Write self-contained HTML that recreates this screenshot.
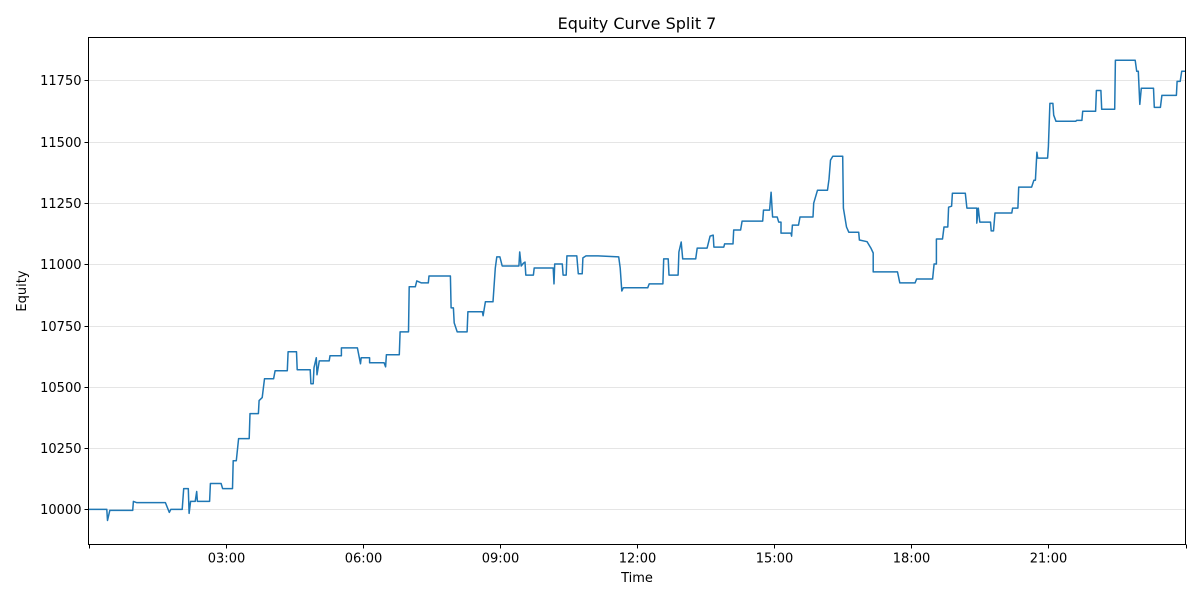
<!DOCTYPE html>
<html><head><meta charset="utf-8"><style>
body{margin:0;background:#fff;font-family:"Liberation Sans","DejaVu Sans",sans-serif}
svg text{font-family:"DejaVu Sans","Liberation Sans",sans-serif;fill:#000}
</style></head><body>
<svg id="chart" width="1200" height="600" xmlns="http://www.w3.org/2000/svg">
<rect width="1200" height="600" fill="#fff"/>
<g id="grid"></g>
<g id="ticks"></g>
<path id="line" fill="none" stroke="#1f77b4" stroke-width="1.5" stroke-linejoin="round"/>
<rect x="88.5" y="37.5" width="1097" height="507" fill="none" stroke="#000" stroke-width="1"/>
<text x="637" y="29" font-size="16" text-anchor="middle">Equity Curve Split 7</text>
<text x="637" y="582" font-size="13" text-anchor="middle">Time</text>
<text x="26" y="291" font-size="13" text-anchor="middle" transform="rotate(-90 26 291)">Equity</text>
</svg>
<script>
const times=[0,24,25,28,58,59,63,101,106,108,123,125,131,132,134,140,142,143,159,160,174,176,189,190,194,197,211,212,223,224,228,231,243,245,261,262,273,274,291,292,295,296,299,300,303,316,317,332,332,353,357,358,369,369,388,390,391,408,409,420,421,429,431,437,446,447,475,476,479,480,484,497,498,517,518,521,531,534,536,540,543,565,566,568,571,573,574,584,585,610,611,612,622,623,627,628,641,643,648,649,653,669,696,698,700,702,734,736,754,755,761,762,774,775,778,780,797,799,812,816,820,821,834,835,846,847,856,858,885,886,894,896,898,904,906,909,909,922,923,924,932,934,951,952,957,970,972,974,977,990,991,995,998,1011,1012,1022,1027,1030,1030,1062,1065,1085,1087,1108,1110,1113,1113,1121,1123,1128,1129,1133,1134,1151,1153,1166,1166,1168,1170,1184,1185,1188,1190,1212,1213,1220,1221,1238,1241,1243,1245,1246,1259,1260,1262,1266,1267,1270,1296,1297,1304,1305,1322,1323,1329,1330,1347,1348,1374,1376,1378,1380,1382,1398,1399,1407,1409,1428,1429,1433,1435,1440];
const equity=[10000,10000,9955,9996,9996,10033,10028,10028,9988,10000,10000,10085,10085,9984,10033,10033,10073,10033,10033,10106,10106,10085,10085,10199,10199,10289,10289,10391,10391,10444,10456,10533,10533,10566,10566,10643,10643,10570,10570,10513,10513,10578,10619,10549,10606,10606,10627,10627,10659,10659,10594,10619,10619,10598,10598,10582,10631,10631,10724,10724,10908,10908,10932,10924,10924,10952,10952,10822,10822,10761,10724,10724,10806,10806,10790,10847,10847,10985,11030,11030,10993,10993,11050,10993,11005,11009,10956,10956,10985,10985,10920,11001,11001,10956,10956,11034,11034,10961,10961,11026,11034,11034,11030,10985,10891,10904,10904,10920,10920,11022,11022,10956,10956,11050,11091,11022,11022,11066,11066,11115,11119,11070,11070,11083,11083,11140,11140,11176,11176,11221,11221,11294,11193,11193,11172,11172,11127,11127,11115,11160,11160,11193,11193,11249,11302,11302,11347,11425,11441,11441,11229,11152,11131,11131,11099,11092,11066,11046,10969,10969,10924,10924,10940,10940,11001,11001,11103,11103,11152,11152,11233,11237,11290,11290,11229,11229,11168,11229,11172,11172,11136,11136,11209,11209,11229,11229,11315,11315,11343,11343,11457,11433,11433,11481,11656,11656,11608,11583,11583,11587,11587,11624,11624,11709,11709,11632,11632,11832,11832,11787,11787,11652,11718,11718,11640,11640,11689,11689,11746,11746,11787,11787];
const yTicks=[10000,10250,10500,10750,11000,11250,11500,11750];
const xTicks=[0,180,360,540,720,900,1080,1260,1440];
const xTickLabels=["","03:00","06:00","09:00","12:00","15:00","18:00","21:00",""];
const X0=88.5,X1=1185.5,Y0=544.5,Y1=37.5,xMin=0,xMax=1440,yMin=9857,yMax=11925;
const xs=v=>X0+(v-xMin)/(xMax-xMin)*(X1-X0);
const ys=v=>Y0-(v-yMin)/(yMax-yMin)*(Y0-Y1);
const NS="http://www.w3.org/2000/svg";
const grid=document.getElementById('grid'),ticks=document.getElementById('ticks');
function mk(tag,attrs,parent){const e=document.createElementNS(NS,tag);for(const k in attrs)e.setAttribute(k,attrs[k]);parent.appendChild(e);return e;}
yTicks.forEach(v=>{
  const y=Math.round(ys(v))+0.5;
  const g=mk('line',{x1:X0,x2:X1,y1:y,y2:y,stroke:'#e5e5e5','stroke-width':1},grid);
  
  
  const t=mk('line',{x1:X0-4,x2:X0,y1:y,y2:y,stroke:'#000'},ticks);
  
  
  const l=mk('text',{x:X0-7,y:y+4.5,'font-size':13,'text-anchor':'end'},ticks);
  l.textContent=v;
  
  
});
xTicks.forEach((v,i)=>{
  const x=Math.round(xs(v))+0.5;
  const t=mk('line',{x1:x,x2:x,y1:Y0,y2:Y0+4,stroke:'#000'},ticks);
  
  
  if(xTickLabels[i]){
    const l=mk('text',{x:x,y:Y0+18,'font-size':13,'text-anchor':'middle'},ticks);
    l.textContent=xTickLabels[i];
    
    
  }
});
document.getElementById('line').setAttribute('d',times.map((t,i)=>(i?'L':'M')+xs(t).toFixed(1)+','+ys(equity[i]).toFixed(1)).join(''));
</script>
</body></html>
